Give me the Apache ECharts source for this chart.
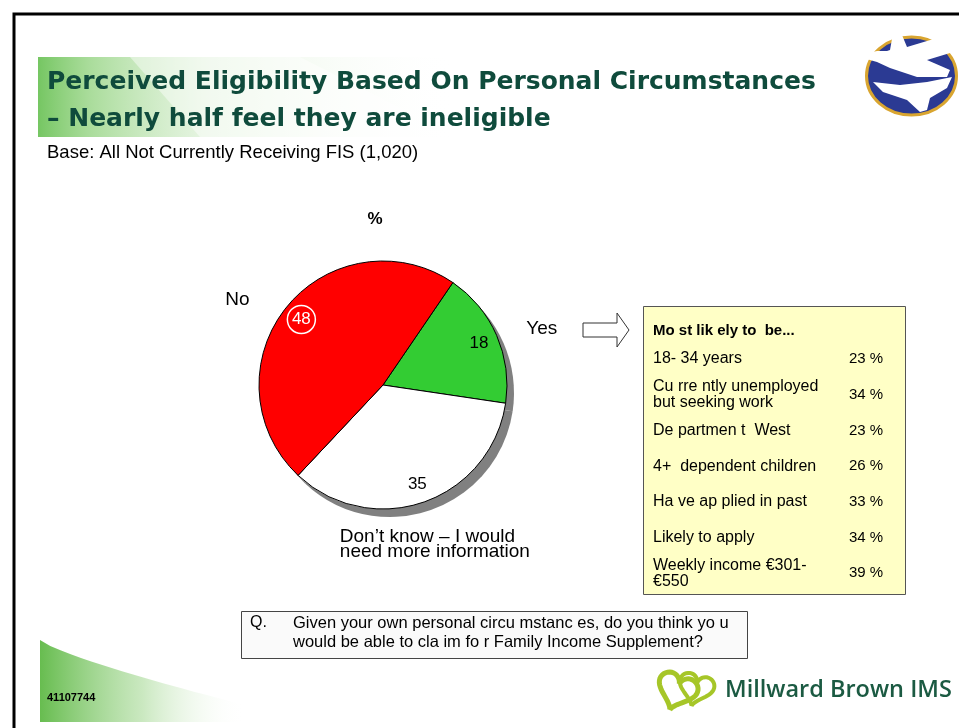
<!DOCTYPE html>
<html>
<head>
<meta charset="utf-8">
<script src="https://cdn.jsdelivr.net/npm/echarts@6/dist/echarts.min.js"></script>
<style>
html,body{margin:0;padding:0;background:#fff;}
#chart{width:959px;height:728px;}
</style>
</head>
<body>
<div id="chart"></div>
<script>
// ---- data ----
const categories = ['Yes', 'Don\u2019t know \u2013 I would\nneed more information', 'No'];
const values = [18, 35, 48];
const drivers = ['18- 34 years', 'Cu rre ntly unemployed\nbut seeking work', 'De partmen t  West', '4+  dependent children', 'Ha ve ap plied in past', 'Likely to apply', 'Weekly income \u20AC301-\n\u20AC550'];
const driverPct = [23, 34, 23, 26, 33, 34, 39];
const titleLines = ['Perceived Eligibility Based On Personal Circumstances', '\u2013 Nearly half feel they are ineligible'];
const baseText = 'Base: All Not Currently Receiving FIS (1,020)';
const questionLines = ['Given your own personal circu mstanc es, do you think yo u', 'would be able to cla im fo r Family Income Supplement?'];

// ---- style ----
const FONT = '"Liberation Sans", Arial, sans-serif';
const WIDE = '"DejaVu Sans", Arial, sans-serif';
const sliceColors = ['#33CC33', '#FFFFFF', '#FF0000'];
const CX = 383, CY = 385, R = 124;

const chart = echarts.init(document.getElementById('chart'), null, {renderer: 'canvas'});

const mainData = categories.map((c, i) => ({name: c, value: values[i], itemStyle: {color: sliceColors[i]}}));

const valueLabelData = categories.map((c, i) => {
  const d = {name: c, value: values[i]};
  if (c === 'No') {
    d.label = {formatter: '{c|{c}}', rich: {c: {color: '#fff', fontSize: 17, fontFamily: FONT, width: 28, height: 28, lineHeight: 28, align: 'center', borderColor: '#fff', borderWidth: 1.5, borderRadius: 14}}};
  }
  return d;
});

const nameOffsets = {'Yes': [3, 12], 'No': [-13, 21]};
const nameLabelData = categories.map((c, i) => {
  const d = {name: c, value: values[i]};
  if (nameOffsets[c]) d.label = {offset: nameOffsets[c]};
  else d.label = {formatter: '{a|{b}}', offset: [1, -1], rich: {a: {width: 200, align: 'left', fontSize: 19, lineHeight: 15, fontFamily: FONT, color: '#000'}}};
  return d;
});

function heartPoints(ox, oy, s, rot) {
  const pts = [];
  for (let k = 0; k <= 72; k++) {
    const t = k / 72 * Math.PI * 2;
    const x = 16 * Math.pow(Math.sin(t), 3) * s;
    const y = -(13 * Math.cos(t) - 5 * Math.cos(2 * t) - 2 * Math.cos(3 * t) - Math.cos(4 * t)) * s;
    pts.push([ox + x * Math.cos(rot) - y * Math.sin(rot), oy + x * Math.sin(rot) + y * Math.cos(rot)]);
  }
  return pts;
}

const graphics = [];
// frame
graphics.push({type: 'rect', shape: {x: 14, y: 14, width: 980, height: 740}, style: {fill: 'none', stroke: '#000', lineWidth: 3}, z: 100});
// title banner
graphics.push({type: 'rect', shape: {x: 38, y: 57, width: 420, height: 80}, style: {fill: new echarts.graphic.LinearGradient(0, 0, 1, 0, [
  {offset: 0, color: 'rgba(110,195,90,0.95)'},
  {offset: 0.12, color: 'rgba(140,208,120,0.75)'},
  {offset: 0.4, color: 'rgba(200,232,190,0.45)'},
  {offset: 1, color: 'rgba(255,255,255,0)'}
])}, z: 1});
graphics.push({type: 'polygon', shape: {points: [[130, 57], [300, 57], [458, 137], [200, 137]]}, style: {fill: 'rgba(255,255,255,0.45)'}, z: 2});
// title
titleLines.forEach((t, i) => {
  graphics.push({type: 'text', x: 47, y: [82, 119][i], style: {text: t, fill: '#0F4B3C', font: 'bold 25px ' + WIDE, verticalAlign: 'middle'}, z: 10});
});
graphics.push({type: 'text', x: 47, y: 153, style: {text: baseText, fill: '#000', font: '18.5px ' + FONT, verticalAlign: 'middle'}, z: 10});
// percent sign
graphics.push({type: 'text', x: 375, y: 219, style: {text: '%', fill: '#000', font: 'bold 17px ' + FONT, align: 'center', verticalAlign: 'middle'}});
// arrow
graphics.push({type: 'polygon', shape: {points: [[583, 323], [617, 323], [617, 313], [629, 330], [617, 347], [617, 337], [583, 337]]}, style: {fill: '#fff', stroke: '#333', lineWidth: 1}});
// yellow box
graphics.push({type: 'rect', shape: {x: 643.5, y: 306.5, width: 262, height: 288}, style: {fill: '#FFFFC6', stroke: '#555', lineWidth: 1}});
graphics.push({type: 'text', x: 653, y: 331, style: {text: 'Mo st lik ely to  be...', fill: '#000', font: 'bold 15px ' + FONT, verticalAlign: 'middle'}});
drivers.forEach((d, i) => {
  const y = 359 + i * 35.7;
  graphics.push({type: 'text', x: 653, y: y, style: {text: d, fill: '#000', font: '16px ' + FONT, lineHeight: 16, verticalAlign: 'middle'}});
  graphics.push({type: 'text', x: 849, y: y, style: {text: driverPct[i] + ' %', fill: '#000', font: '15px ' + FONT, verticalAlign: 'middle'}});
});
// question box
graphics.push({type: 'rect', shape: {x: 241.5, y: 611.5, width: 506, height: 47}, style: {fill: '#FAFAFA', stroke: '#444', lineWidth: 1}});
graphics.push({type: 'text', x: 250, y: 623, style: {text: 'Q.', fill: '#000', font: '16px ' + FONT, verticalAlign: 'middle'}});
questionLines.forEach((t, i) => {
  graphics.push({type: 'text', x: 293, y: 623 + i * 19, style: {text: t, fill: '#000', font: '16.5px ' + FONT, verticalAlign: 'middle'}});
});
// bottom-left swoosh
const sw = [];
for (let k = 0; k <= 20; k++) {
  const t = k / 20;
  sw.push([40 + 205 * t, 640 + 65 * Math.pow(t, 0.8)]);
}
sw.push([245, 722], [40, 722]);
graphics.push({type: 'polygon', shape: {points: sw}, style: {fill: new echarts.graphic.LinearGradient(0, 0, 1, 0, [
  {offset: 0, color: 'rgba(95,185,70,0.95)'},
  {offset: 0.5, color: 'rgba(150,210,130,0.5)'},
  {offset: 1, color: 'rgba(255,255,255,0)'}
])}, z: 1});
graphics.push({type: 'text', x: 47, y: 698, style: {text: '41107744', fill: '#000', font: 'bold 11px ' + FONT, verticalAlign: 'middle'}, z: 10});
// dove logo
graphics.push({type: 'ellipse', shape: {cx: 911.5, cy: 76, rx: 45, ry: 39}, style: {fill: '#2B3A93', stroke: '#D9A530', lineWidth: 3}});
graphics.push({type: 'polygon', shape: {points: [[863, 58], [868, 53], [877, 51], [887, 51], [890, 50], [895, 22], [902, 35], [907, 47], [937, 38], [955, 43], [950, 53], [927, 60], [950, 70], [947, 77], [917, 77], [890, 68], [877, 62]]}, style: {fill: '#fff'}});
graphics.push({type: 'polygon', shape: {points: [[873, 82], [900, 85], [927, 82], [952, 77], [947, 88], [930, 98], [927, 110], [920, 112], [907, 100], [883, 92]]}, style: {fill: '#fff'}});
// Millward Brown logo
graphics.push({type: 'polyline', shape: {points: heartPoints(677, 690, 1.25, 0.35)}, style: {fill: 'none', stroke: '#A6C628', lineWidth: 5}});
graphics.push({type: 'polyline', shape: {points: heartPoints(696, 688, 1.1, 0.25)}, style: {fill: 'none', stroke: '#A6C628', lineWidth: 4}});
graphics.push({type: 'text', x: 725, y: 690, style: {text: 'Millward Brown IMS', fill: '#1B5A42', font: '600 23.5px "Open Sans", ' + FONT, verticalAlign: 'middle'}});

const option = {
  backgroundColor: '#fff',
  animation: false,
  series: [
    {
      type: 'pie', center: [CX + 7, CY + 8], radius: R, startAngle: 55.7, clockwise: true,
      silent: true, z: 1,
      data: categories.map((c, i) => ({name: c, value: values[i]})),
      itemStyle: {color: '#808080', borderWidth: 0},
      label: {show: false}, labelLine: {show: false}, emphasis: {disabled: true}
    },
    {
      type: 'pie', center: [CX, CY], radius: R, startAngle: 55.7, clockwise: true,
      silent: true, z: 2,
      data: mainData,
      itemStyle: {borderColor: '#000', borderWidth: 1},
      label: {show: false}, labelLine: {show: false}, emphasis: {disabled: true}
    },
    {
      type: 'pie', center: [CX, CY], radius: [R * 0.64, R], startAngle: 55.7, clockwise: true,
      silent: true, z: 3,
      data: valueLabelData,
      itemStyle: {color: 'rgba(0,0,0,0)', borderWidth: 0},
      label: {show: true, position: 'inside', formatter: '{c}', color: '#000', fontSize: 17, fontFamily: FONT},
      labelLine: {show: false}, emphasis: {disabled: true}
    },
    {
      type: 'pie', center: [CX, CY], radius: [136, 198], startAngle: 55.7, clockwise: true,
      silent: true, z: 3,
      data: nameLabelData,
      itemStyle: {color: 'rgba(0,0,0,0)', borderWidth: 0},
      label: {show: true, position: 'inside', formatter: '{b}', color: '#000', fontSize: 19, lineHeight: 15, fontFamily: FONT},
      labelLine: {show: false}, emphasis: {disabled: true}
    }
  ],
  graphic: graphics
};
chart.setOption(option);
</script>
</body>
</html>
